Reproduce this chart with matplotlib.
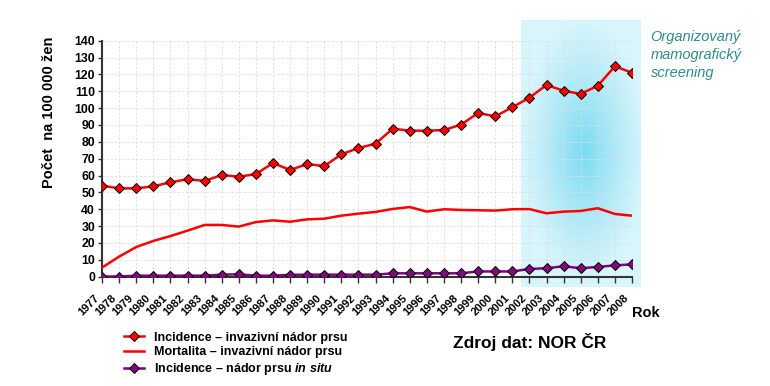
import matplotlib
matplotlib.use('Agg')
import matplotlib.pyplot as plt
import matplotlib.transforms as mtransforms
import numpy as np

plt.rcParams['font.family'] = ['Liberation Sans', 'DejaVu Sans']
plt.rcParams['font.weight'] = 'bold'
plt.rcParams['mathtext.fontset'] = 'custom'
plt.rcParams['mathtext.it'] = 'Liberation Sans:italic:bold'
plt.rcParams['mathtext.rm'] = 'Liberation Sans:bold'

# data
years = list(range(1977, 2009))
incidence = [54.0, 52.4, 52.4, 53.6, 56.0, 57.8, 56.8, 60.3, 59.3, 60.9, 67.4, 63.3,
             66.8, 65.6, 72.6, 76.3, 78.9, 87.8, 86.6, 86.6, 87.0, 90.2, 97.1, 95.1,
             100.5, 106.2, 113.7, 110.3, 108.4, 113.3, 124.8, 121.0]
mortality = [5.4, 11.9, 17.6, 21.2, 24.1, 27.3, 30.7, 30.7, 29.7, 32.4, 33.4, 32.6,
             34.0, 34.4, 36.2, 37.4, 38.4, 40.2, 41.3, 38.6, 40.0, 39.6, 39.4, 39.2,
             40.0, 40.1, 37.6, 38.6, 39.0, 40.6, 37.2, 36.2]
in_situ = [0.1, 0.1, 0.6, 0.6, 0.6, 0.6, 0.6, 1.2, 1.4, 0.6, 0.6, 1.1,
           1.2, 1.2, 1.2, 1.2, 1.2, 2.0, 2.0, 2.0, 2.0, 2.0, 3.1, 3.1,
           3.1, 4.6, 5.0, 6.2, 5.0, 5.8, 6.7, 7.3]
screening_years = (2001.5, 2008.5)

labels = ['Incidence – invazivní nádor prsu',
          'Mortalita – invazivní nádor prsu',
          'Incidence – nádor prsu $in\\ situ$']

fig = plt.figure(figsize=(7.7, 3.86), dpi=100)
ax = fig.add_axes([0.1325, 0.2832, 0.6883, 0.6114])

# screening period, radial light-blue gradient
gx, gy = np.meshgrid(np.linspace(-1, 1, 200), np.linspace(-1, 1, 300))
cx, cy = 0.05, 0.02
r = np.clip(np.sqrt(((gx - cx) / 1.05) ** 2 + ((gy - cy) / 1.0) ** 2), 0, 1)
w = (1 - r) ** 1.15
inner = np.array([0x7a, 0xdb, 0xf2]) / 255
outer = np.array([0xd8, 0xf5, 0xfc]) / 255
img = inner[None, None, :] * w[..., None] + outer[None, None, :] * (1 - w[..., None])
ax.imshow(img, extent=(screening_years[0], screening_years[1], -6.1, 151.7),
          aspect='auto', origin='lower', clip_on=False, zorder=0.1, interpolation='bilinear')

ax.plot(years, mortality, color='#ff0000', lw=1.8, zorder=3, label=labels[1])
ax.plot(years, in_situ, color='#800080', lw=1.8, marker='D', ms=5.5,
        mfc='#7f0a7f', mec='black', mew=0.7, zorder=4, label=labels[2])
ax.plot(years, incidence, color='#ff0000', lw=1.8, marker='D', ms=5.5,
        mfc='#ff0000', mec='black', mew=0.7, zorder=4, label=labels[0])

ax.set_xlim(1977, 2008)
ax.set_ylim(0, 140)
ax.set_yticks(range(0, 141, 10))
ax.set_xticks(years)
ax.set_xticklabels([])
# rotated year labels, ending a bit left of and below each tick
lab_tr = ax.get_xaxis_transform() + mtransforms.ScaledTranslation(-8 / 100, -16 / 100,
                                                                    fig.dpi_scale_trans)
for y in years:
    ax.text(y, 0, str(y), transform=lab_tr, rotation=45, ha='right', va='top',
            rotation_mode='anchor', fontsize=8, fontweight='bold', clip_on=False)
ax.tick_params(axis='y', labelsize=8.8, length=3, width=1, color='#333333', pad=2)
ax.tick_params(axis='x', length=4, width=1, color='#333333', pad=3)
for t in ax.get_yticklabels():
    t.set_fontweight('bold')

ax.grid(True, color='#dddddd', linestyle=(0, (3, 2)), linewidth=0.6, zorder=0.5)
ax.set_axisbelow(True)
for s in ['top', 'right']:
    ax.spines[s].set_visible(False)
ax.spines['left'].set_color('#333333')
ax.spines['left'].set_linewidth(1.5)
ax.spines['bottom'].set_color('#333333')
ax.spines['bottom'].set_linewidth(1.5)
ax.spines['bottom'].set_zorder(3.5)
ax.patch.set_alpha(0)

fig.text(0.0636, 0.71, 'Počet  na 100 000 žen', rotation=90, ha='center', va='center',
         fontsize=10.5, fontweight='bold')
fig.text(0.821, 0.188, 'Rok', ha='left', va='center', fontsize=10.5, fontweight='bold')
fig.text(0.588, 0.114, 'Zdroj dat: NOR ČR', ha='left', va='center', fontsize=12.5,
         fontweight='bold')
fig.text(0.845, 0.922, 'Organizovaný\nmamografický\nscreening', ha='left', va='top',
         fontsize=10.5, style='italic', fontweight='normal', color='#2e8a8e',
         linespacing=1.38)

h, l = ax.get_legend_handles_labels()
order = [2, 0, 1]
fig.legend([h[i] for i in order], [l[i] for i in order], loc='upper left',
           bbox_to_anchor=(0.161, 0.141), bbox_transform=fig.transFigure,
           frameon=False, fontsize=9, handlelength=1.6, handletextpad=0.8,
           labelspacing=0.22, borderaxespad=0, borderpad=0)

fig.savefig('out.png', dpi=100)
